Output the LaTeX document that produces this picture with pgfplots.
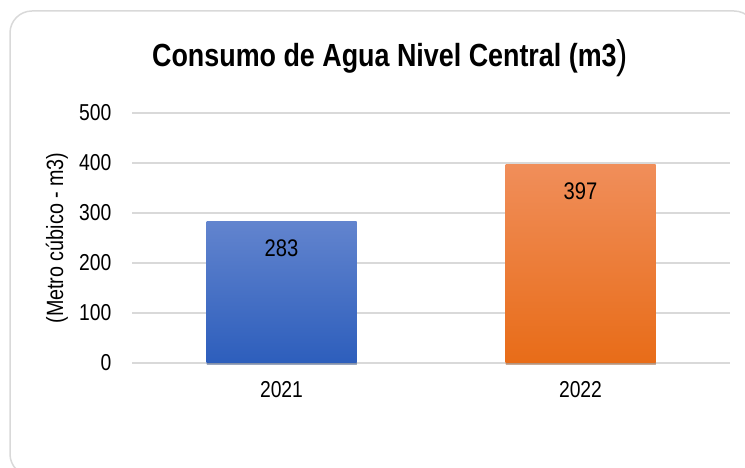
\documentclass[border=0pt]{standalone}
\usepackage{fontspec}
\setmainfont{Liberation Sans}[FakeStretch=0.84]
\usepackage{pgfplots}
\pgfplotsset{compat=1.18}
\usetikzlibrary{shadows}
\definecolor{bluetop}{RGB}{98,132,206}
\definecolor{bluebot}{RGB}{45,94,188}
\definecolor{orgtop}{RGB}{240,142,90}
\definecolor{orgbot}{RGB}{232,108,24}
\definecolor{gridgray}{RGB}{217,217,217}
\begin{document}
\begin{tikzpicture}[x=1pt,y=1pt]
\useasboundingbox (0,0) rectangle (745,468);
\begin{scope}
  \clip (0,0) rectangle (745,468);
  \draw[gridgray, line width=1.5pt, rounded corners=22pt] (10,-8) rectangle (756,457);
\end{scope}
\node[font=\bfseries\fontsize{32}{38}\selectfont] at (390,410) {Consumo de Agua Nivel Central (m3\raisebox{-2pt}{\mdseries\fontsize{40}{44}\selectfont)}};
\node[rotate=90, font=\fontsize{23.5}{27}\selectfont] at (57,230) {(Metro cúbico - m3)};
\begin{axis}[
    at={(132pt,105pt)}, anchor=south west,
    scale only axis,
    width=598pt, height=250pt,
    xmin=-0.5, xmax=1.5,
    ymin=0, ymax=500,
    ytick={0,100,200,300,400,500},
    xtick={0,1},
    xticklabels={2021,2022},
    axis line style={draw=none},
    major tick style={draw=none},
    ymajorgrids,
    grid style={gridgray, line width=1.5pt},
    /pgf/number format/assume math mode=true,
    tick label style={font=\fontsize{23}{27}\selectfont},
    yticklabel style={xshift=-17pt},
    xticklabel style={yshift=-15pt},
    clip=false,
]
% 2021
\addplot[ybar, bar width=150pt, bar shift=0pt, draw=none,
    drop shadow={shadow xshift=0pt, shadow yshift=-2pt, opacity=0.25, fill=black},
    top color=bluetop, bottom color=bluebot,
    nodes near coords,
    every node near coord/.append style={anchor=center, inner sep=0pt, yshift=-27pt, text=black, font=\fontsize{24}{28}\selectfont}]
    coordinates {(0,283)};
% 2022
\addplot[ybar, bar width=150pt, bar shift=0pt, draw=none,
    drop shadow={shadow xshift=0pt, shadow yshift=-2pt, opacity=0.25, fill=black},
    top color=orgtop, bottom color=orgbot,
    nodes near coords,
    every node near coord/.append style={anchor=center, inner sep=0pt, yshift=-27pt, text=black, font=\fontsize{24}{28}\selectfont}]
    coordinates {(1,397)};
\end{axis}
\end{tikzpicture}
\end{document}
